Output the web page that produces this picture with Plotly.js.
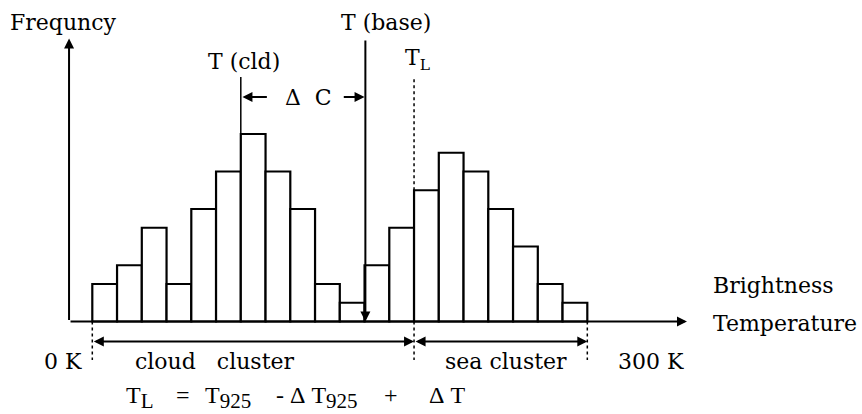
<!DOCTYPE html>
<html>
<head>
<meta charset="utf-8">
<script src="https://cdn.plot.ly/plotly-3.0.1.min.js"></script>
<style>html,body{margin:0;padding:0;background:#fff;}#chart{width:862px;height:414px;}</style>
</head>
<body>
<div id="chart"></div>
<script>
// Histogram of brightness temperature (schematic), bins of 15 K from 0 to 300 K
const binCenters = [7.5,22.5,37.5,52.5,67.5,82.5,97.5,112.5,127.5,142.5,157.5,172.5,187.5,202.5,217.5,232.5,247.5,262.5,277.5,292.5];
const frequency  = [2,3,5,2,6,8,10,8,6,2,1,3,5,7,9,8,6,4,2,1];
const binWidth = 15;

// key temperatures (K)
const T_cld = 90;
const T_base = 165.5;
const T_L = 195;
const T_min = 0;
const T_max = 300;

const serif = "DejaVu Serif, serif";
const times = "Liberation Serif, Times New Roman, serif";
const BLACK = "#000";

const trace = {
  type: "bar",
  x: binCenters,
  y: frequency,
  width: binCenters.map(() => binWidth),
  marker: {color: "#fff", line: {color: BLACK, width: 2.2}},
  hoverinfo: "skip"
};

function arrow(x, y, ax, ay, opts) {
  return Object.assign({
    x: x, y: y, ax: ax, ay: ay, xref: "x", yref: "y", axref: "x", ayref: "y",
    text: "", showarrow: true, arrowhead: 2, arrowsize: 1, arrowwidth: 2, arrowcolor: BLACK
  }, opts || {});
}
function label(text, x, y, size, opts) {
  return Object.assign({
    x: x, y: y, xref: "x", yref: "y", text: text, showarrow: false,
    font: {family: serif, size: size, color: BLACK}, xanchor: "center", yanchor: "middle"
  }, opts || {});
}

const NB = "\u00A0";
const SUB = s => "<sub><span style=\"font-size:21px\">" + s + "</span></sub>";
// equation pieces and their left positions (K)
const eqParts = ["T" + SUB("L"), "=", "T" + SUB("925"), "-" + NB + "\u0394" + NB + "T" + SUB("925"), "+", "\u0394" + NB + "T"];
const eqLeft  = [19.5, 49.8, 66.8, 110.4, 175.8, 203.1];

const yAxisX = -14.1;
const xAxisEnd = 360.4;
const yAxisTop = 15.1;
const dCy = 11.97;
const belowY = -2.05;
const clusterY = -1.07;
const eqTop = -3.12;

const shapes = [
  // T(cld) line
  {type: "line", xref: "x", yref: "y", x0: T_cld, x1: T_cld, y0: 10, y1: 13.04, line: {color: BLACK, width: 1.5}},
  // T_L dotted line above bars
  {type: "line", xref: "x", yref: "y", x0: T_L, x1: T_L, y0: 7, y1: 13.04, line: {color: BLACK, width: 1.5, dash: "dot"}},
  // dotted markers below axis
  {type: "line", xref: "x", yref: "y", x0: T_min, x1: T_min, y0: 0, y1: belowY, line: {color: BLACK, width: 1.5, dash: "dot"}},
  {type: "line", xref: "x", yref: "y", x0: T_L, x1: T_L, y0: 0, y1: belowY, line: {color: BLACK, width: 1.5, dash: "dot"}},
  {type: "line", xref: "x", yref: "y", x0: T_max, x1: T_max, y0: 0, y1: belowY, line: {color: BLACK, width: 1.5, dash: "dot"}}
];

const FS = 22;
const annotations = [
  // axes
  arrow(yAxisX, yAxisTop, yAxisX, 0),
  arrow(xAxisEnd, 0, yAxisX, 0),
  // T(base) line with arrow down to axis
  arrow(T_base, 0, T_base, 15.07),
  // delta C arrows
  arrow(T_cld + 1, dCy, 106.7, dCy),
  arrow(T_base - 0.5, dCy, 151.5, dCy),
  // cluster double arrows
  arrow(T_L, clusterY, T_min, clusterY, {arrowside: "end+start", startarrowhead: 2, startarrowsize: 1}),
  arrow(T_max, clusterY, T_L, clusterY, {arrowside: "end+start", startarrowhead: 2, startarrowsize: 1}),
  // labels
  label("Frequncy", -17.45, 15.97, FS),
  label("T (cld)", 91.9, 13.89, FS),
  label("T (base)", 178, 15.97, FS),
  label("T<sub>L</sub>", 197, 13.95, FS),
  label("\u0394" + NB + NB + "C", 131.3, dCy, FS),
  label("Brightness", 375, 1.9, FS, {xanchor: "left"}),
  label("Temperature", 375, -0.08, FS, {xanchor: "left"}),
  label("0 K", -17.8, -2.11, FS),
  label("cloud" + NB.repeat(3) + "cluster", 74.1, -2.11, FS),
  label("sea cluster", 251, -2.11, FS),
  label("300 K", 338.6, -2.11, FS)
].concat(eqParts.map((t, i) => label(t, eqLeft[i], eqTop, 24,
  {xanchor: "left", yanchor: "top", font: {family: times, size: 24, color: BLACK}})));

const layout = {
  width: 862, height: 414,
  margin: {l: 0, r: 0, t: 0, b: 0, pad: 0},
  paper_bgcolor: "#fff", plot_bgcolor: "#fff",
  showlegend: false,
  xaxis: {range: [-55.94, 466.48], visible: false, fixedrange: true},
  yaxis: {range: [-4.933, 17.147], visible: false, fixedrange: true},
  bargap: 0,
  shapes: shapes,
  annotations: annotations
};

Plotly.newPlot("chart", [trace], layout, {displayModeBar: false, staticPlot: true});
</script>
</body>
</html>
